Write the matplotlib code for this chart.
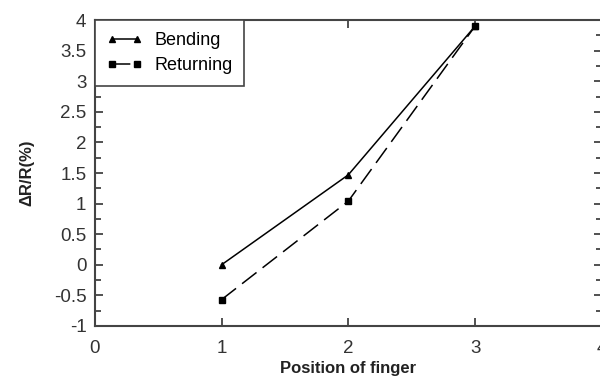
import matplotlib.pyplot as plt
from matplotlib.ticker import MultipleLocator

plt.rcParams['font.family'] = ['Liberation Sans', 'DejaVu Sans']

# finger positions and resistance change
position = [1, 2, 3]
bending = [0.0, 1.47, 3.9]
returning = [-0.57, 1.04, 3.9]

fig = plt.figure(figsize=(6, 3.79), dpi=100)
ax = fig.add_axes([0.158, 0.14, 0.845, 0.807])

ax.plot(position, bending, color='black', lw=1.1, marker='^', ms=5, label='Bending')
ax.plot(position, returning, color='black', lw=1.1, marker='s', ms=5,
        dashes=(12, 5), label='Returning')

ax.set_xlim(0, 4)
ax.set_ylim(-1, 4)
ax.xaxis.set_major_locator(MultipleLocator(1))
ax.yaxis.set_minor_locator(MultipleLocator(0.25))
ax.set_yticks([-1, -0.5, 0, 0.5, 1, 1.5, 2, 2.5, 3, 3.5, 4])
ax.set_yticklabels(['-1', '-0.5', '0', '0.5', '1', '1.5', '2', '2.5', '3', '3.5', '4'])
ax.tick_params(which='both', direction='in', top=True, right=True,
               color='#333333', width=1.2, labelsize=13.5, labelcolor='#333333', pad=6)
ax.tick_params(which='major', length=6)
ax.tick_params(which='minor', length=4)
ax.tick_params(axis='x', pad=10)
for s in ax.spines.values():
    s.set_linewidth(1.5)
    s.set_color('#444444')

ax.set_xlabel('Position of finger', fontsize=12, fontweight='bold', labelpad=3,
              color='#222222')
ax.set_ylabel('\u0394R/R(%)', fontsize=12, fontweight='bold', labelpad=14,
              color='#222222')

leg = ax.legend(loc='upper left', numpoints=2, fontsize=13, fancybox=False,
                borderaxespad=0, handlelength=2.0, handletextpad=0.65,
                borderpad=0.65, labelspacing=0.45)
leg.get_frame().set_edgecolor('#444444')
leg.get_frame().set_linewidth(1.2)
leg.get_frame().set_alpha(1)

fig.savefig('out.png', dpi=100)
